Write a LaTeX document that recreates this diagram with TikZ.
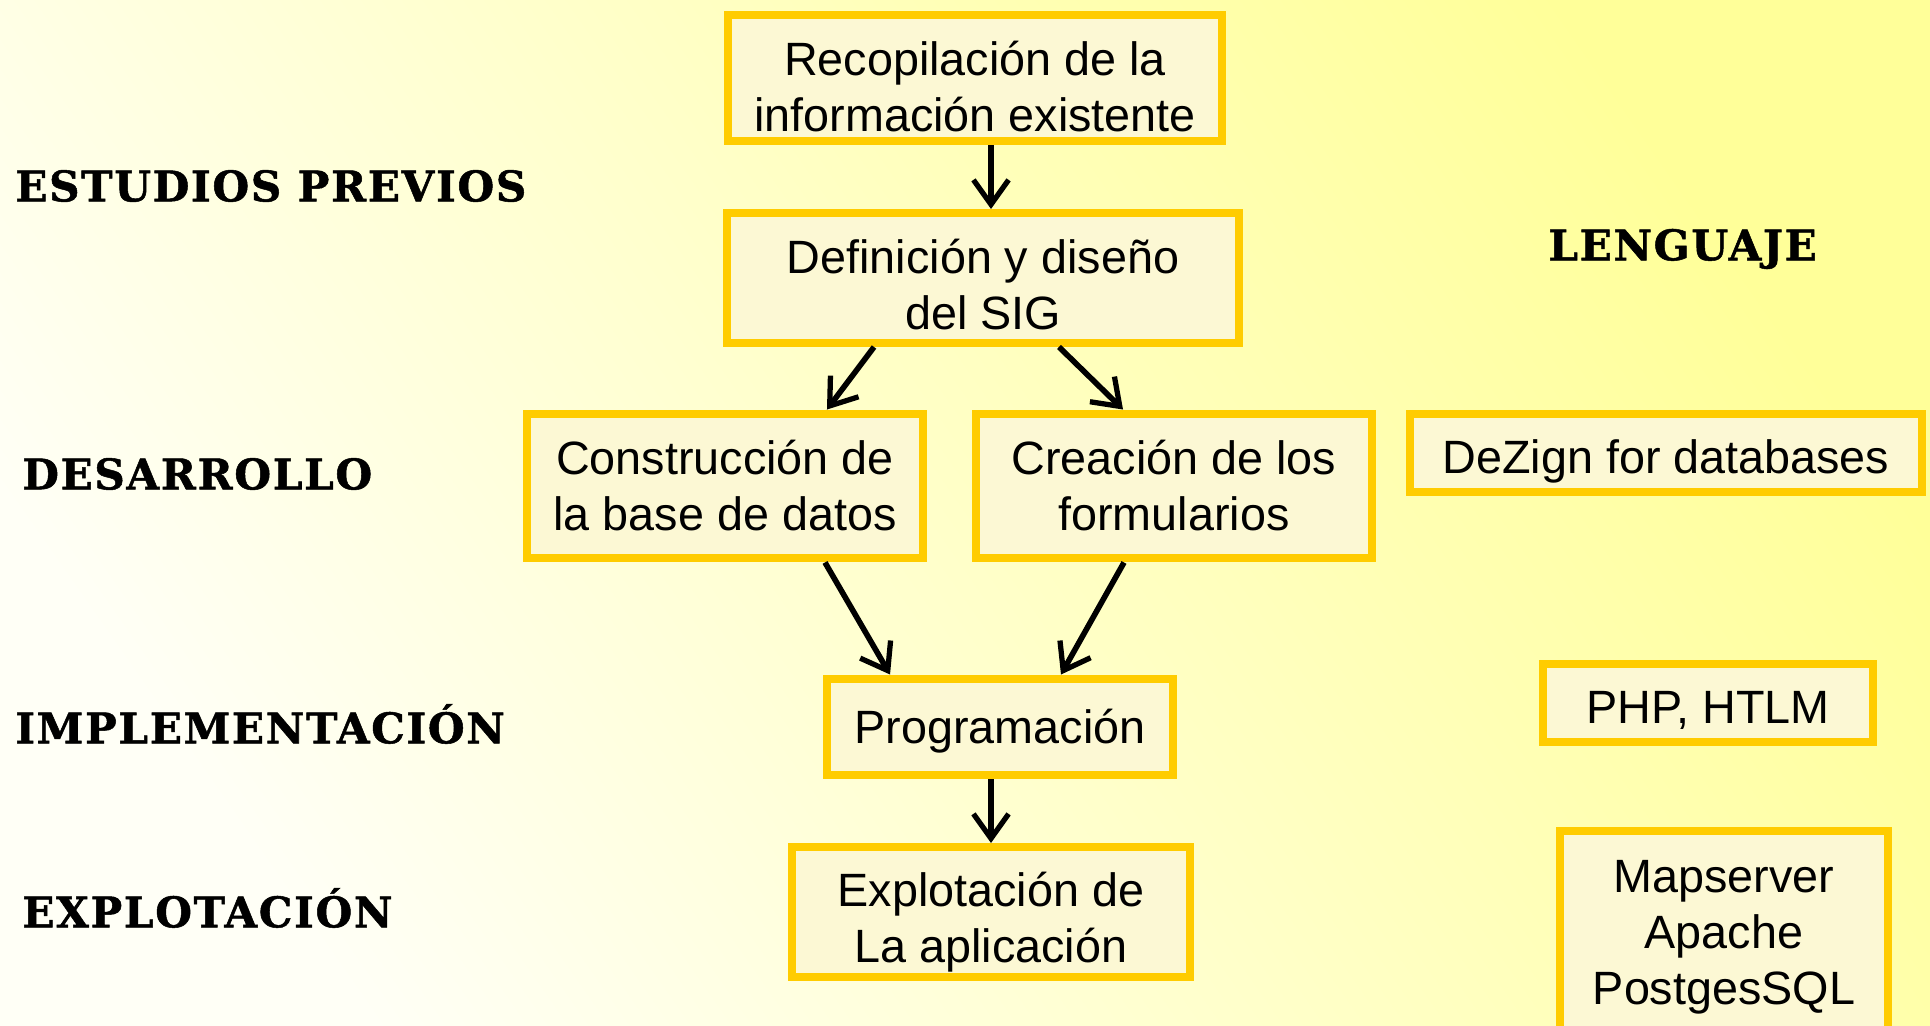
\documentclass[tikz,border=0pt]{standalone}
\usepackage{fontspec}
\setmainfont{Liberation Sans}
\newfontfamily\headfont{DejaVu Serif}[LetterSpace=4, BoldFeatures={FakeBold=1.2}]
\usetikzlibrary{arrows.meta}
\definecolor{boxedge}{HTML}{FFCC00}
\definecolor{boxfill}{HTML}{FCF8D4}
\definecolor{bglight}{HTML}{FFFFF6}
\definecolor{bgdark}{HTML}{FFFF99}
\newcommand\stagetext[2][6pt]{\raisebox{-#1}[\height][\depth]{\begin{tabular}{@{}c@{}}#2\end{tabular}}}
\tikzset{
  stage/.style={draw=boxedge, fill=boxfill, line width=0.16cm, inner sep=0pt,
    font=\fontsize{26.6}{32}\selectfont},
  phase/.style={anchor=west, inner sep=0pt, font=\headfont\bfseries\fontsize{24}{28}\selectfont},
  arr/.style={-{Straight Barb[length=14pt,width=20pt,line width=3pt]}, line width=3.2pt}
}
\begin{document}
\begin{tikzpicture}[x=0.02cm,y=-0.02cm]
  \useasboundingbox (0,0) rectangle (1930,1026);
  \shade[top color=bgdark, bottom color=bglight, shading angle=-55] (0,0) rectangle (1930,1026);
  \begin{scope}
    \clip (0,0) rectangle (1930,1026);
    \node[stage, minimum width=9.9cm, minimum height=2.54cm] (rec) at (975,78) {\stagetext[8pt]{Recopilación de la\\información existente}};
    \node[stage, minimum width=10.26cm, minimum height=2.6cm] (def) at (983,278) {\stagetext[7pt]{Definición y diseño\\del SIG}};
    \node[stage, minimum width=7.92cm, minimum height=2.9cm] (cbd) at (725,486) {\stagetext[3pt]{Construcción de\\la base de datos}}; \node[stage, minimum width=7.92cm, minimum height=2.9cm] (form) at (1174,486) {\stagetext[3pt]{Creación de los\\formularios}};
    \node[stage, minimum width=10.24cm, minimum height=1.56cm] (dezign) at (1666,453) {\stagetext[5pt]{DeZign for databases}};
    \node[stage, minimum width=6.94cm, minimum height=1.94cm] (prog) at (1000,727) {\stagetext[3pt]{Programación}}; \node[stage, minimum width=6.6cm, minimum height=1.58cm] (php) at (1708,703) {\stagetext[5pt]{PHP, HTLM}};
    \node[stage, minimum width=7.96cm, minimum height=2.6cm] (expl) at (991,912) {\stagetext[6.5pt]{Explotación de\\La aplicación}}; \node[stage, minimum width=6.58cm, minimum height=4.04cm] (serv) at (1724,932) {\stagetext[3pt]{Mapserver\\Apache\\PostgesSQL}};
  \end{scope}

  \node[phase] (estudios) at (15,186) {ESTUDIOS PREVIOS}; \node[phase] (lenguaje) at (1548,249) {LENGUAJE};
  \node[phase] (desarrollo) at (22,474) {DESARROLLO};
  \node[phase] (implem) at (15,724) {IMPLEMENTACIÓN};
  \node[phase] (explot) at (22,908) {EXPLOTACIÓN};

  \draw[arr] ([xshift=0.32cm]rec.south) to ([xshift=0.32cm]rec.south |- def.north);
  \draw[arr] ([xshift=-2.18cm]def.south) to ([xshift=2.04cm]cbd.north); \draw[arr] ([xshift=1.52cm]def.south) to ([xshift=-1.02cm]form.north);
  \draw[arr] ([xshift=2cm]cbd.south) to ([xshift=-2.2cm]prog.north); \draw[arr] ([xshift=-1cm]form.south) to ([xshift=1.22cm]prog.north);
  \draw[arr] ([xshift=-0.18cm]prog.south) to ([xshift=-0.18cm]prog.south |- expl.north);
\end{tikzpicture}
\end{document}
